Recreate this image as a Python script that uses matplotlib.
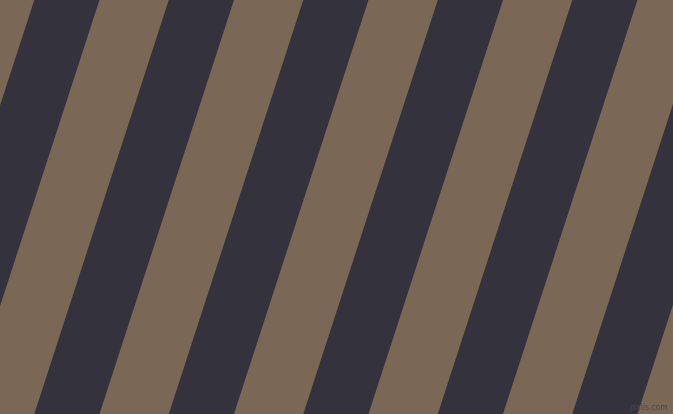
import numpy as np
import matplotlib.pyplot as plt

# stripe pattern settings
colors = ['#34333d', '#7b6755']
widths = [65.2, 69.3]          # horizontal width of dark / brown stripe
offset = 34.3                  # left edge of first dark stripe on top row
angle = 72                     # stripe angle against horizontal, degrees
W, H = 673, 414

fig = plt.figure(figsize=(W / 100, H / 100 + 0.001), dpi=100)
fig.patch.set_facecolor(colors[1])
ax = fig.add_axes([0, 0, 1, 1])
ax.set_xlim(0, W)
ax.set_ylim(H, 0)
ax.axis('off')

shift = np.tan(np.radians(90 - angle))
period = sum(widths)
for k in range(-3, 8):
    left = offset + k * period
    w = widths[0]
    xs = [left, left + w, left + w - shift * H, left - shift * H]
    ys = [0, 0, H, H]
    ax.fill(xs, ys, color=colors[0], lw=0)

ax.text(668, 407, 'pixlis.com', ha='right', va='center', fontsize=5.5,
        color='#4a4953')

fig.savefig('out.png', dpi=100, facecolor=colors[1])
